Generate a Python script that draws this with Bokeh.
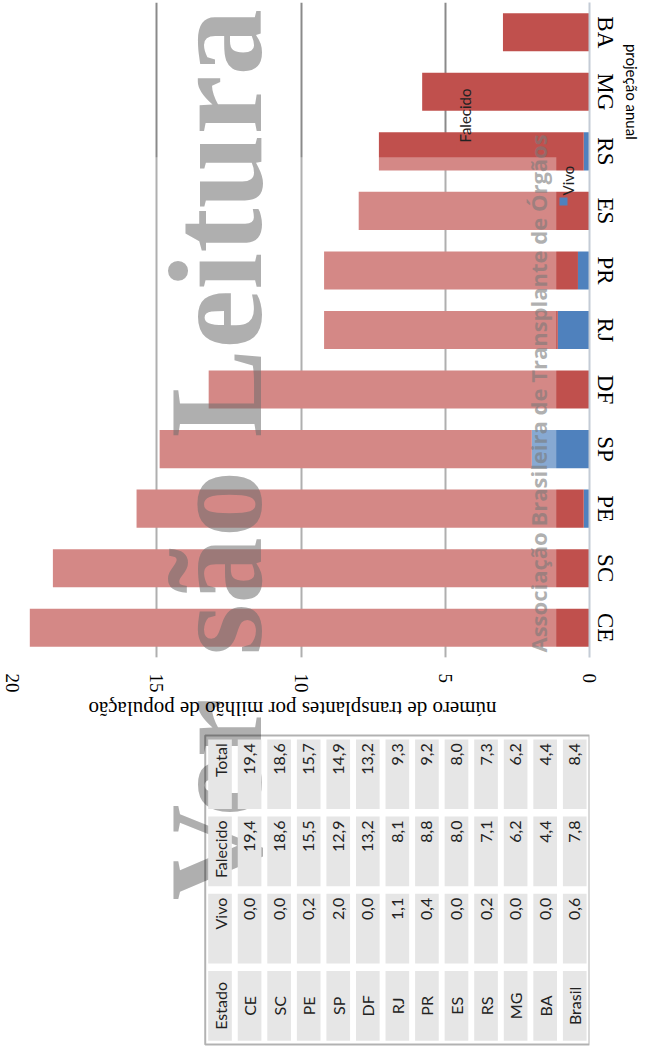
from math import pi
from bokeh.plotting import figure
from bokeh.models import (ColumnDataSource, FactorRange, Range1d, FixedTicker, Label,
                          BoxAnnotation, CategoricalAxis, CustomJSTickFormatter)
from bokeh.layouts import column
from bokeh.embed import file_html
from bokeh.resources import INLINE
from bokeh.core.properties import value

# ---- chart data (bars) ----
estados = ["CE", "SC", "PE", "SP", "DF", "RJ", "PR", "ES", "RS", "MG", "BA"]
vivo = [0.0, 0.0, 0.2, 2.0, 0.0, 1.1, 0.4, 0.0, 0.2, 0.0, 0.0]
falecido = [19.4, 18.6, 15.5, 12.9, 13.2, 8.1, 8.8, 8.0, 7.1, 5.8, 3.0]
valor_ticks = [0, 5, 10, 15, 20]
series = ["Vivo", "Falecido"]

# ---- table data ----
tab_estado = ["CE", "SC", "PE", "SP", "DF", "RJ", "PR", "ES", "RS", "MG", "BA", "Brasil"]
tab_vivo = [0.0, 0.0, 0.2, 2.0, 0.0, 1.1, 0.4, 0.0, 0.2, 0.0, 0.0, 0.6]
tab_falecido = [19.4, 18.6, 15.5, 12.9, 13.2, 8.1, 8.8, 8.0, 7.1, 6.2, 4.4, 7.8]
tab_total = [19.4, 18.6, 15.7, 14.9, 13.2, 9.3, 9.2, 8.0, 7.3, 6.2, 4.4, 8.4]
cabecalho = ["Estado", "Vivo", "Falecido", "Total"]

titulo_eixo = "número de transplantes por milhão de população"
nota = "projeção anual"
nota_estado = "MG"
marca_a, marca_b = "Ver", "são Leitura"      # watermark "Versão Leitura"
entidade = "Associação Brasileira de Transplante de Órgãos"

RED = "#c0504d"
BLUE = "#4f81bd"
SERIF = "Liberation Serif"
SANS = "Lato"
W = 643

def fmt(v):
    return f"{v:.1f}".replace(".", ",")

# ================= chart =================
p1 = figure(width=W, height=695, x_range=Range1d(20, 0),
            y_range=FactorRange(factors=estados), y_axis_location="right",
            output_backend="svg", toolbar_location=None,
            min_border_left=12, min_border_right=48, min_border_top=2,
            min_border_bottom=36)
p1.outline_line_color = None
p1.background_fill_color = "white"
p1.border_fill_color = "white"

src = ColumnDataSource(dict(estado=estados, Vivo=vivo, Falecido=falecido))
p1.hbar_stack(series, y="estado", height=0.64, color=[BLUE, RED],
              line_color=None, source=src)

xa = p1.xaxis[0]
xa.ticker = FixedTicker(ticks=valor_ticks)
xa.major_label_orientation = "vertical"
xa.axis_line_color = None
xa.major_tick_line_color = None
xa.minor_tick_line_color = None
xa.major_tick_out = 0
xa.major_tick_in = 0
xa.minor_tick_out = 0
xa.major_label_standoff = 16
xa.major_label_text_font = SERIF
xa.major_label_text_font_size = "19px"
xa.major_label_text_color = "black"

ya = p1.yaxis[0]
ya.major_label_orientation = "vertical"
ya.axis_line_color = "#c4ccd6"
ya.axis_line_width = 2
ya.major_tick_line_color = None
ya.minor_tick_line_color = None
ya.major_tick_out = 0
ya.major_tick_in = 0
ya.minor_tick_out = 0
ya.major_label_standoff = 3
ya.major_label_text_font = SERIF
ya.major_label_text_font_size = "23px"
ya.major_label_text_color = "black"

# second right axis carrying the note "projeção anual" next to MG/BA
ax2 = CategoricalAxis(formatter=CustomJSTickFormatter(
                          args=dict(alvo=nota_estado, texto=nota),
                          code="return tick == alvo ? texto : ''"),
                      major_label_orientation="vertical",
                      axis_line_color=None, major_tick_line_color=None,
                      minor_tick_line_color=None, major_tick_out=0, major_tick_in=0,
                      minor_tick_out=0, major_label_standoff=2,
                      major_label_text_font=SANS, major_label_text_font_size="15px",
                      major_label_text_color="black")
p1.add_layout(ax2, "right")

p1.xgrid.ticker = FixedTicker(ticks=valor_ticks[1:])
p1.xgrid.grid_line_color = "#8a8a8a"
p1.xgrid.grid_line_width = 2
p1.ygrid.grid_line_color = None

# scan overlay (lighter area of the scanned page)
p1.add_layout(BoxAnnotation(left=None, right=1.15, bottom=None, top=8.4,
                            fill_color="white", fill_alpha=0.32, line_color=None))

# legend (rotated)
p1.add_layout(BoxAnnotation(left=444, right=452, bottom=505, top=513,
                            left_units="screen", right_units="screen",
                            bottom_units="screen", top_units="screen",
                            fill_color=RED, fill_alpha=1, line_color=None))
p1.add_layout(Label(x=452, y=515, x_units="screen", y_units="screen",
                    text="Falecido", angle=pi / 2, text_align="left",
                    text_baseline="middle", text_font=SANS,
                    text_font_size="15px", text_color="#222222"))
p1.add_layout(BoxAnnotation(left=547, right=555, bottom=452, top=460,
                            left_units="screen", right_units="screen",
                            bottom_units="screen", top_units="screen",
                            fill_color=BLUE, fill_alpha=1, line_color=None))
p1.add_layout(Label(x=555, y=462, x_units="screen", y_units="screen",
                    text="Vivo", angle=pi / 2, text_align="left",
                    text_baseline="middle", text_font=SANS,
                    text_font_size="15px", text_color="#222222"))

# watermarks
p1.add_layout(Label(x=203, y=2, x_units="screen", y_units="screen",
                    text=marca_b, angle=pi / 2, text_align="left",
                    text_baseline="middle", text_font=SERIF,
                    text_font_style="bold", text_font_size="133px",
                    text_color="#6e6e6e", text_alpha=0.55))
p1.add_layout(Label(x=525, y=5, x_units="screen", y_units="screen",
                    text=entidade, angle=pi / 2, text_align="left",
                    text_baseline="middle", text_font="Open Sans",
                    text_font_style="bold", text_font_size="22px",
                    text_color="#7a7a7a", text_alpha=0.6))

# ================= table (and axis title, rotated with the scan) =================
linhas = ["Estado"] + tab_estado
n = len(linhas)
nf = len(cabecalho)
p2 = figure(width=W, height=351, x_range=Range1d(-6.52, n),
            y_range=Range1d(-0.026, nf + 0.518),
            x_axis_location=None, y_axis_location=None,
            output_backend="svg", toolbar_location=None,
            min_border_left=12, min_border_right=48, min_border_top=0,
            min_border_bottom=0)
p2.grid.visible = False
p2.outline_line_color = None
p2.background_fill_color = "white"
p2.border_fill_color = "white"

# watermark part under the chart
p2.add_layout(Label(x=203, y=348, x_units="screen", y_units="screen",
                    text=marca_a, angle=pi / 2, text_align="right",
                    text_baseline="middle", text_font=SERIF,
                    text_font_style="bold", text_font_size="133px",
                    text_color="#6e6e6e", text_alpha=0.55, level="underlay"))

# value-axis title (upside down in the rotated scan)
p2.add_layout(Label(x=280, y=338, x_units="screen", y_units="screen",
                    text=titulo_eixo, angle=pi, text_align="center",
                    text_baseline="middle", text_font=SERIF,
                    text_font_size="21px", text_color="black"))

cx, cy = [], []
for i in range(n):
    for j in range(nf):
        cx.append(i + 0.5)
        cy.append(j + 0.5)
p2.rect(x=cx, y=cy, width=0.8, height=0.9, fill_color="#e6e6e6", line_color=None)

xs = [i + 0.5 for i in range(n)]
pad = 0.1
# Estado band (bottom), centred
p2.text(x=xs, y=[0.5] * n, text=linhas, angle=pi / 2, text_align="center",
        text_baseline="middle", text_font=value(SANS), text_font_size="16px",
        text_color="#222222")
# numeric bands, right aligned (top of each band)
for j, (head, vals) in enumerate([(cabecalho[1], tab_vivo), (cabecalho[2], tab_falecido),
                                   (cabecalho[3], tab_total)], start=1):
    txt = [head] + [fmt(v) for v in vals]
    p2.text(x=xs, y=[j + 1 - pad] * n, text=txt, angle=pi / 2, text_align="right",
            text_baseline="middle", text_font=value(SANS), text_font_size="16px",
            text_color="#222222")

p2.add_layout(BoxAnnotation(left=0, right=n, bottom=0, top=nf,
                            fill_alpha=0, line_color="black", line_width=2))

layout = column(p1, p2, spacing=0)
open("out.html", "w").write(file_html(layout, INLINE, title="transplantes"))
